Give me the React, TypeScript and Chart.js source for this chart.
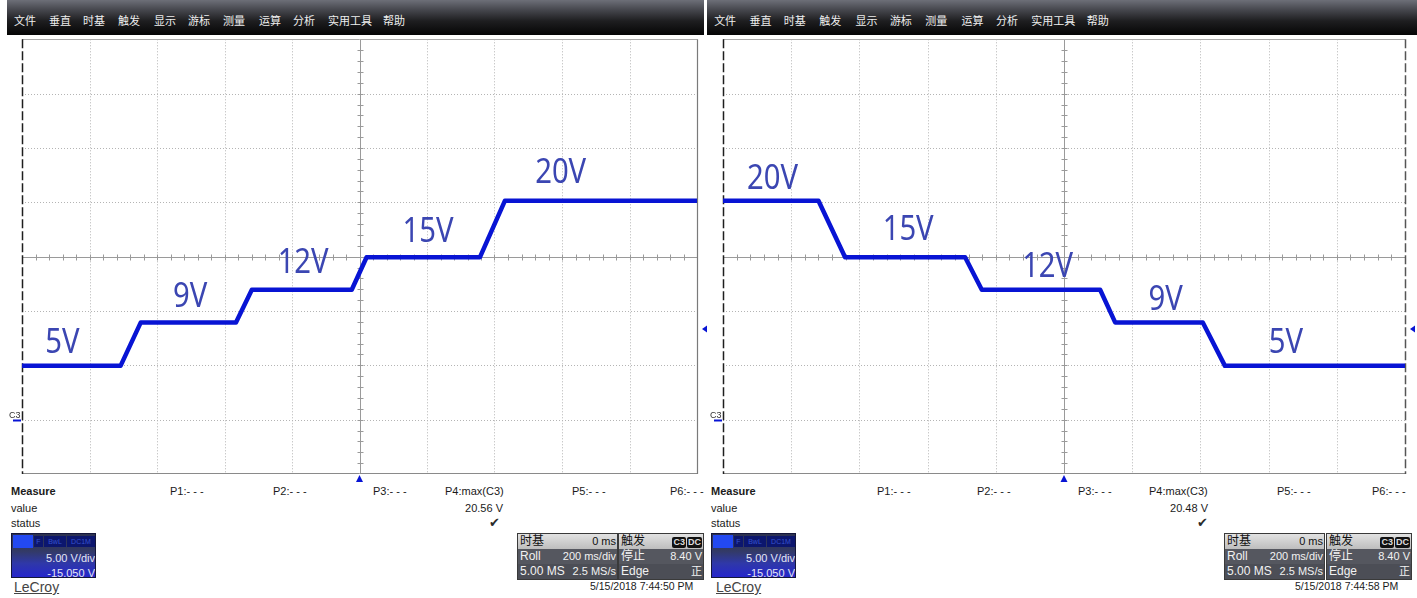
import React, { useEffect, useRef } from "react";
import { Chart, registerables } from "chart.js";
Chart.register(...registerables);

// ---------- scope settings ----------
const Y_MIN = -4.95; // V at bottom of screen (offset -15.050 V, 5 V/div)
const Y_MAX = 35.05;
const V_PER_DIV = 5;
const T_SPAN_MS = 2000; // 200 ms/div x 10 div
const MS_PER_DIV = 200;
const TRIGGER_LEVEL_V = 8.4;
const TRIGGER_TIME_MS = 1000;

// ---------- left capture (stepping up) ----------
const LEFT_TIME_MS = [0, 292, 352, 634, 681, 977, 1021, 1357, 1431, 2000];
const LEFT_VOLTS = [5.0, 5.0, 9.0, 9.0, 12.0, 12.0, 15.0, 15.0, 20.2, 20.2];
const LEFT_LABELS = ["5V", "9V", "12V", "15V", "20V"];
const LEFT_LABEL_T = [120, 498, 833, 1203, 1596];
const LEFT_LABEL_V = [6.19, 10.42, 13.55, 16.4, 21.83];

// ---------- right capture (stepping down) ----------
const RIGHT_TIME_MS = [0, 280, 358, 710, 759, 1106, 1150, 1407, 1472, 2000];
const RIGHT_VOLTS = [20.2, 20.2, 15.0, 15.0, 12.0, 12.0, 9.0, 9.0, 5.0, 5.0];
const RIGHT_LABELS = ["20V", "15V", "12V", "9V", "5V"];
const RIGHT_LABEL_T = [145, 543, 952, 1298, 1651];
const RIGHT_LABEL_V = [21.28, 16.59, 13.15, 10.14, 6.19];

// ---------- texts ----------
const MENU_ITEMS = ["文件", "垂直", "时基", "触发", "显示", "游标", "测量", "运算", "分析", "实用工具", "帮助"];
const P_LABELS = ["P1:- - -", "P2:- - -", "P3:- - -", "P4:max(C3)", "P5:- - -", "P6:- - -"];
const LEFT_MAX_VALUE = "20.56 V";
const RIGHT_MAX_VALUE = "20.48 V";
const LEFT_DATE = "5/15/2018 7:44:50 PM";
const RIGHT_DATE = "5/15/2018 7:44:58 PM";

const TRACE = "#0814d4";
const LABEL_BLUE = "#3b46b2";

const CANVAS_TOP = 30;
const CANVAS_H = 460;
const PLOT_TOP = 39.3;
const PLOT_BOTTOM = 474;

type PanelCfg = {
  canvasLeft: number;
  canvasWidth: number;
  plotLeft: number;
  plotRight: number;
  rightBorderDashed: boolean;
  times: number[];
  volts: number[];
  labels: string[];
  labelT: number[];
  labelV: number[];
};

const LEFT_PANEL: PanelCfg = {
  canvasLeft: 0,
  canvasWidth: 710,
  plotLeft: 22,
  plotRight: 697,
  rightBorderDashed: false,
  times: LEFT_TIME_MS,
  volts: LEFT_VOLTS,
  labels: LEFT_LABELS,
  labelT: LEFT_LABEL_T,
  labelV: LEFT_LABEL_V,
};
const RIGHT_PANEL: PanelCfg = {
  canvasLeft: 708,
  canvasWidth: 709,
  plotLeft: 723,
  plotRight: 1405,
  rightBorderDashed: true,
  times: RIGHT_TIME_MS,
  volts: RIGHT_VOLTS,
  labels: RIGHT_LABELS,
  labelT: RIGHT_LABEL_T,
  labelV: RIGHT_LABEL_V,
};

function line(ctx: CanvasRenderingContext2D, x1: number, y1: number, x2: number, y2: number) {
  ctx.beginPath();
  ctx.moveTo(x1, y1);
  ctx.lineTo(x2, y2);
  ctx.stroke();
}

function makeGridPlugin(cfg: PanelCfg) {
  return {
    id: "scopeGrid",
    beforeDatasetsDraw(chart: any) {
      const { ctx, chartArea, scales } = chart;
      const { left, right, top, bottom } = chartArea;
      const x = scales.x;
      const y = scales.y;
      ctx.save();
      ctx.lineWidth = 1;
      // dotted grid
      ctx.strokeStyle = "#b4b4b4";
      ctx.setLineDash([1, 2]);
      const nx = T_SPAN_MS / MS_PER_DIV;
      for (let i = 1; i < nx; i++) {
        if (i * MS_PER_DIV === TRIGGER_TIME_MS) continue;
        const px = Math.round(x.getPixelForValue(i * MS_PER_DIV)) + 0.5;
        line(ctx, px, top, px, bottom);
      }
      const ny = (Y_MAX - Y_MIN) / V_PER_DIV;
      const yc = (Y_MAX + Y_MIN) / 2;
      for (let j = 1; j < ny; j++) {
        const v = Y_MIN + j * V_PER_DIV;
        if (Math.abs(v - yc) < 0.01) continue;
        const py = Math.round(y.getPixelForValue(v)) + 0.5;
        line(ctx, left, py, right, py);
      }
      // center crosshair with minor ticks
      ctx.setLineDash([]);
      ctx.strokeStyle = "#9a9a9a";
      const cx = Math.round(x.getPixelForValue(TRIGGER_TIME_MS)) + 0.5;
      const cy = Math.round(y.getPixelForValue(yc)) + 0.5;
      line(ctx, left, cy, right, cy);
      line(ctx, cx, top, cx, bottom);
      for (let k = 1; k < nx * 5; k++) {
        const px = Math.round(x.getPixelForValue((k * MS_PER_DIV) / 5)) + 0.5;
        line(ctx, px, cy - 3, px, cy + 3);
      }
      for (let k = 1; k < ny * 5; k++) {
        const py = Math.round(y.getPixelForValue(Y_MIN + (k * V_PER_DIV) / 5)) + 0.5;
        line(ctx, cx - 3, py, cx + 3, py);
      }
      // borders
      ctx.strokeStyle = "#a9a9a9";
      line(ctx, left, Math.round(top) + 0.5, right, Math.round(top) + 0.5);
      ctx.strokeStyle = "#8a8a8a";
      line(ctx, left, Math.round(bottom) - 0.5, right, Math.round(bottom) - 0.5);
      ctx.strokeStyle = "#1e1e1e";
      ctx.lineWidth = 1.5;
      ctx.setLineDash([9, 3]);
      line(ctx, Math.round(left) + 0.5, top, Math.round(left) + 0.5, bottom);
      if (cfg.rightBorderDashed) {
        ctx.strokeStyle = "#555";
      } else {
        ctx.setLineDash([]);
        ctx.lineWidth = 1.2;
        ctx.strokeStyle = "#7a7a7a";
      }
      line(ctx, Math.round(right) + 0.5, top, Math.round(right) + 0.5, bottom);
      ctx.restore();
    },
    afterDatasetsDraw(chart: any) {
      const { ctx, chartArea, scales } = chart;
      const { left, right, bottom } = chartArea;
      const x = scales.x;
      const y = scales.y;
      ctx.save();
      // step labels
      ctx.fillStyle = LABEL_BLUE;
      ctx.font = "34px 'Noto Sans'";
      ctx.textAlign = "center";
      ctx.textBaseline = "alphabetic";
      cfg.labels.forEach((txt, i) => {
        const px = x.getPixelForValue(cfg.labelT[i]);
        const py = y.getPixelForValue(cfg.labelV[i]);
        ctx.save();
        ctx.translate(px, py);
        ctx.scale(0.86, 1);
        ctx.fillText(txt, 0, 0);
        ctx.restore();
      });
      // ground marker C3
      const gy = Math.round(y.getPixelForValue(0)) + 0.5;
      ctx.strokeStyle = TRACE;
      ctx.lineWidth = 2;
      line(ctx, left - 9, gy, left - 1, gy);
      ctx.fillStyle = "#333";
      ctx.font = "9px 'Liberation Sans'";
      ctx.textAlign = "left";
      ctx.fillText("C3", left - 13, gy - 3);
      // trigger level marker
      const ty = y.getPixelForValue(TRIGGER_LEVEL_V);
      ctx.fillStyle = TRACE;
      ctx.beginPath();
      ctx.moveTo(right + 5, ty);
      ctx.lineTo(right + 10, ty - 3.5);
      ctx.lineTo(right + 10, ty + 3.5);
      ctx.closePath();
      ctx.fill();
      // trigger time marker
      const tx = x.getPixelForValue(TRIGGER_TIME_MS);
      ctx.beginPath();
      ctx.moveTo(tx, bottom + 1);
      ctx.lineTo(tx - 3.5, bottom + 8);
      ctx.lineTo(tx + 3.5, bottom + 8);
      ctx.closePath();
      ctx.fill();
      ctx.restore();
    },
  };
}

function ScopeCanvas({ cfg }: { cfg: PanelCfg }) {
  const ref = useRef<HTMLCanvasElement | null>(null);
  useEffect(() => {
    if (!ref.current) return;
    const padLeft = cfg.plotLeft - cfg.canvasLeft;
    const padRight = cfg.canvasLeft + cfg.canvasWidth - cfg.plotRight;
    const chart = new Chart(ref.current, {
      type: "line",
      data: {
        datasets: [
          {
            data: cfg.times.map((t, i) => ({ x: t, y: cfg.volts[i] })),
            borderColor: TRACE,
            borderWidth: 4.5,
            pointRadius: 0,
            tension: 0,
            fill: false,
            borderJoinStyle: "round",
          } as any,
        ],
      },
      options: {
        animation: false,
        responsive: false,
        events: [],
        layout: {
          padding: {
            left: padLeft,
            right: padRight,
            top: PLOT_TOP - CANVAS_TOP,
            bottom: CANVAS_TOP + CANVAS_H - PLOT_BOTTOM,
          },
        },
        plugins: { legend: { display: false }, tooltip: { enabled: false } },
        scales: {
          x: { type: "linear", min: 0, max: T_SPAN_MS, display: false },
          y: { type: "linear", min: Y_MIN, max: Y_MAX, display: false },
        },
      },
      plugins: [makeGridPlugin(cfg)],
    });
    return () => chart.destroy();
  }, [cfg]);
  return (
    <canvas
      ref={ref}
      width={cfg.canvasWidth}
      height={CANVAS_H}
      style={{ position: "absolute", left: cfg.canvasLeft, top: CANVAS_TOP, width: cfg.canvasWidth, height: CANVAS_H }}
    />
  );
}

const SANS = "'Liberation Sans', Arial, 'Noto Sans CJK SC', sans-serif";

type InfoCfg = {
  barLeft: number;
  barWidth: number;
  menuX: number[];
  measureX: number;
  pX: number[];
  valueRight: number;
  checkRight: number;
  value: string;
  chanX: number;
  lecroyX: number;
  tbX: number;
  trX: number;
  dateX: number;
  date: string;
};

const LEFT_MENU_X = [14, 49, 83, 118, 154, 188, 223, 259, 293, 328, 383];
const LEFT_INFO: InfoCfg = {
  barLeft: 7,
  barWidth: 697,
  menuX: LEFT_MENU_X,
  measureX: 11,
  pX: [170, 273, 373, 445, 572, 670],
  valueRight: 503,
  checkRight: 500,
  value: LEFT_MAX_VALUE,
  chanX: 11,
  lecroyX: 14,
  tbX: 517,
  trX: 618,
  dateX: 590,
  date: LEFT_DATE,
};
const RIGHT_INFO: InfoCfg = {
  barLeft: 707,
  barWidth: 710,
  menuX: LEFT_MENU_X.map((v) => 700 + v * 1.01),
  measureX: 711,
  pX: [877, 977, 1078, 1149, 1277, 1372],
  valueRight: 1208,
  checkRight: 1208,
  value: RIGHT_MAX_VALUE,
  chanX: 711,
  lecroyX: 716,
  tbX: 1224,
  trX: 1326,
  dateX: 1295,
  date: RIGHT_DATE,
};

function Txt(props: { x?: number; right?: number; top: number; size?: number; bold?: boolean; color?: string; children: any; style?: any }) {
  const { x, right, top, size = 11, bold, color = "#1a1a1a", children, style } = props;
  const s: any = {
    position: "absolute",
    top,
    fontFamily: SANS,
    fontSize: size,
    lineHeight: 1,
    fontWeight: bold ? 700 : 400,
    color,
    whiteSpace: "nowrap",
    ...style,
  };
  if (right !== undefined) {
    s.left = right;
    s.transform = "translateX(-100%)";
  } else s.left = x;
  return <div style={s}>{children}</div>;
}

function Row({ bg, color, l, r, top }: { bg: string; color: string; l: any; r: any; top: number }) {
  return (
    <div
      style={{
        position: "absolute",
        left: 0,
        right: 0,
        top,
        height: 15,
        background: bg,
        color,
        fontFamily: SANS,
        fontSize: 11,
        lineHeight: "15px",
        display: "flex",
        justifyContent: "space-between",
        padding: "0 1px 0 2px",
        boxSizing: "border-box",
        whiteSpace: "nowrap",
      }}
    >
      <span style={{ fontSize: 12 }}>{l}</span>
      <span>{r}</span>
    </div>
  );
}

function Info({ c }: { c: InfoCfg }) {
  const badge = (t: string) => (
    <span
      style={{
        display: "inline-block",
        background: "#111",
        color: "#ddd",
        fontSize: 9,
        fontWeight: 700,
        lineHeight: "11px",
        padding: "0 1px",
        borderRadius: 2,
        marginLeft: 1,
        verticalAlign: "middle",
      }}
    >
      {t}
    </span>
  );
  return (
    <>
      {/* menu bar */}
      <div
        style={{
          position: "absolute",
          left: c.barLeft,
          top: 0,
          width: c.barWidth,
          height: 35,
          background: "linear-gradient(to bottom, #6d6f78 0%, #4a4b52 25%, #1e1e20 60%, #050505 100%)",
        }}
      />
      {MENU_ITEMS.map((m, i) => (
        <div
          key={"m" + i}
          style={{
            position: "absolute",
            left: c.menuX[i],
            top: 15,
            fontFamily: "'Noto Sans CJK SC', sans-serif",
            fontSize: 11,
            lineHeight: 1,
            color: "#eeeeee",
            whiteSpace: "nowrap",
          }}
        >
          {m}
        </div>
      ))}
      {/* measure table */}
      <Txt x={c.measureX} top={486} bold>
        Measure
      </Txt>
      <Txt x={c.measureX} top={502.5}>
        value
      </Txt>
      <Txt x={c.measureX} top={517.5}>
        status
      </Txt>
      {P_LABELS.map((p, i) => (
        <Txt key={"p" + i} x={c.pX[i]} top={486}>
          {p}
        </Txt>
      ))}
      <Txt right={c.valueRight} top={502.5}>
        {c.value}
      </Txt>
      <Txt right={c.checkRight} top={516} size={13} color="#2a2a2a" style={{ fontFamily: "'DejaVu Sans', sans-serif" }}>
        ✔
      </Txt>
      {/* channel box */}
      <div
        style={{
          position: "absolute",
          left: c.chanX,
          top: 533,
          width: 85,
          height: 45,
          background: "linear-gradient(to bottom, #2c3150 0%, #333a66 40%, #2f38a8 68%, #2626cc 100%)",
          border: "1px solid #14163a",
          boxSizing: "border-box",
          overflow: "hidden",
        }}
      >
        <div style={{ position: "absolute", left: 1, top: 1, width: 20, height: 13, background: "#2349f2" }} />
        {[
          ["F", 22, 9],
          ["BwL", 32, 22],
          ["DC1M", 55, 28],
        ].map(([t, l, w]: any) => (
          <div
            key={t}
            style={{
              position: "absolute",
              left: l,
              top: 2,
              width: w,
              height: 11,
              background: "#0c166e",
              color: "#3552cf",
              fontFamily: SANS,
              fontSize: 7,
              lineHeight: "11px",
              textAlign: "center",
            }}
          >
            {t}
          </div>
        ))}
        <div style={{ position: "absolute", right: 0, top: 19, fontFamily: SANS, fontSize: 11, lineHeight: 1, color: "#e4e6f4" }}>
          5.00 V/div
        </div>
        <div style={{ position: "absolute", right: 0, top: 33.5, fontFamily: SANS, fontSize: 11, lineHeight: 1, color: "#e4e6f4" }}>
          -15.050 V
        </div>
      </div>
      <Txt x={c.lecroyX} top={580} size={14} color="#444" style={{ textDecoration: "underline" }}>
        LeCroy
      </Txt>
      {/* timebase box */}
      <div
        style={{
          position: "absolute",
          left: c.tbX,
          top: 533,
          width: 99,
          height: 45,
          border: "1px solid #3a3a3a",
          boxSizing: "content-box",
          background: "#4f5159",
        }}
      >
        <Row top={0} bg="linear-gradient(#e2e2e2, #bdbdbd)" color="#111" l="时基" r="0 ms" />
        <Row top={15} bg="#55575f" color="#f2f2f2" l="Roll" r="200 ms/div" />
        <Row top={30} bg="#4c4e56" color="#f2f2f2" l="5.00 MS" r="2.5 MS/s" />
      </div>
      {/* trigger box */}
      <div
        style={{
          position: "absolute",
          left: c.trX,
          top: 533,
          width: 84,
          height: 45,
          border: "1px solid #3a3a3a",
          boxSizing: "content-box",
          background: "#4f5159",
        }}
      >
        <Row
          top={0}
          bg="linear-gradient(#e2e2e2, #bdbdbd)"
          color="#111"
          l="触发"
          r={
            <>
              {badge("C3")}
              {badge("DC")}
            </>
          }
        />
        <Row top={15} bg="#55575f" color="#f2f2f2" l="停止" r="8.40 V" />
        <Row top={30} bg="#4c4e56" color="#f2f2f2" l="Edge" r="正" />
      </div>
      <Txt x={c.dateX} top={581} size={10.5}>
        {c.date}
      </Txt>
    </>
  );
}

export default function App() {
  return (
    <div
      style={{
        position: "absolute",
        left: 0,
        top: 0,
        width: 1417,
        height: 598,
        background: "#ffffff",
        overflow: "hidden",
      }}
    >
      <Info c={LEFT_INFO} />
      <Info c={RIGHT_INFO} />
      <ScopeCanvas cfg={LEFT_PANEL} />
      <ScopeCanvas cfg={RIGHT_PANEL} />
    </div>
  );
}
